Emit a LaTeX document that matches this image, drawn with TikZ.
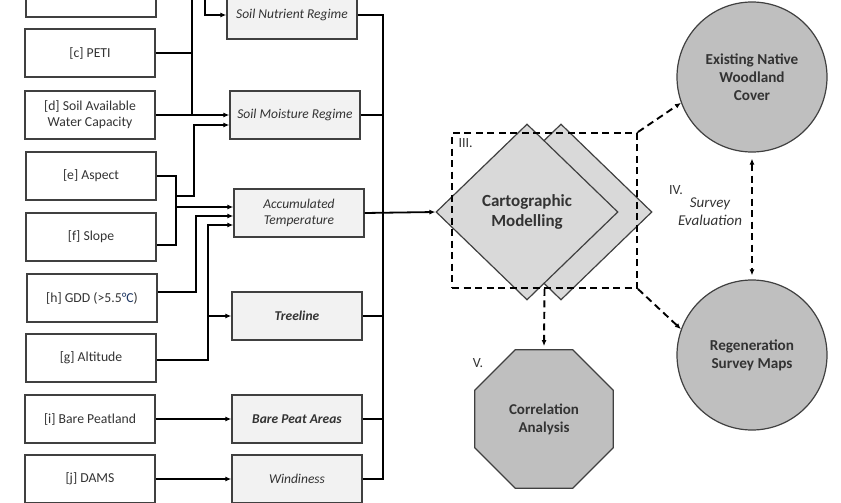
\documentclass[tikz,border=0pt]{standalone}
\usepackage{fontspec}
\setmainfont{Carlito}
\usepackage{xcolor}
\usepackage{tikz}
\usetikzlibrary{shapes,arrows.meta,positioning,calc}

\definecolor{edgegray}{HTML}{404040}
\definecolor{txtgray}{HTML}{333333}
\definecolor{lightfill}{HTML}{F2F2F2}
\definecolor{diafill}{HTML}{D9D9D9}
\definecolor{darkfill}{HTML}{BFBFBF}
\definecolor{degblue}{HTML}{1F3864}

\begin{document}
\begin{tikzpicture}[x=1pt, y=-1pt,
    inbox/.style={draw=edgegray, line width=1.4pt, fill=white, minimum width=130pt, minimum height=48pt,
        align=center, text=txtgray, font=\fontsize{13.7}{16}\selectfont},
    midbox/.style={inbox, fill=lightfill, font=\fontsize{13.5}{16}\selectfont\itshape},
    wire/.style={line width=1.8pt},
    arr/.style={wire, -{Latex[length=6pt,width=5pt]}},
    dashline/.style={line width=1.9pt, dash pattern=on 7pt off 4.5pt},
    dasharr/.style={dashline, -{Latex[length=6pt,width=5pt]}},
    round/.style={circle, draw=edgegray, line width=1.2pt, fill=darkfill, minimum size=150pt,
        align=center, text=txtgray, font=\fontsize{15.2}{18}\selectfont\bfseries},
    carto/.style={diamond, draw=edgegray, line width=1.2pt, fill=diafill, minimum width=182pt,
        minimum height=176pt, inner sep=0pt, align=center},
    note/.style={text=txtgray, font=\fontsize{14}{17}\selectfont}]
    \useasboundingbox (0,0) rectangle (841,503);

    % input layers
    \node[inbox] (b) at (91,-7) {};
    \node[inbox] (c) at (90,53) {[c] PETI};
    \node[inbox] (d) at (90,115) {[d] Soil Available\\Water Capacity};
    \node[inbox] (e) at (91,176) {[e] Aspect};
    \node[inbox] (f) at (91,237) {[f] Slope};
    \node[inbox] (h) at (92,298) {[h] GDD (>5.5\textcolor{degblue}{°C})};
    \node[inbox] (g) at (91,358) {[g] Altitude};
    \node[inbox] (i) at (90,419) {[i] Bare Peatland};
    \node[inbox] (j) at (90,479) {[j] DAMS};

    % derived layers
    \node[midbox] (snr) at (292,15) {Soil Nutrient Regime};
    \node[midbox] (smr) at (295,115) {Soil Moisture Regime};
    \node[midbox] (acc) at (299,213) {Accumulated\\Temperature};
    \node[midbox] (tree) at (297,316) {\textbf{Treeline}};
    \node[midbox] (bpa) at (297,419) {\textbf{Bare Peat Areas}};
    \node[midbox] (wind) at (297,479) {Windiness};

    % modelling, outputs
    \node[carto] (cartoB) at (561,212) {};
    \node[carto, font=\fontsize{17}{20}\selectfont\bfseries, text=txtgray] (cartoA) at (527,212) {Cartographic\\Modelling};
    \node[draw, dashline, minimum width=185pt, minimum height=155pt] (frame) at (544.5,210.5) {};
    \node[note, anchor=north west] at ([xshift=4pt,yshift=-3pt]frame.north west) {III.};
    \node[round] (exist) at (752,77) {Existing Native\\Woodland\\Cover};
    \node[round] (regen) at (752,355) {Regeneration\\Survey Maps};
    \node[regular polygon, regular polygon sides=8, draw=edgegray, line width=1.2pt, fill=darkfill,
        minimum size=150pt, inner sep=0pt, align=center, text=txtgray, font=\fontsize{15}{18}\selectfont\bfseries]
        (corr) at (544,419) {Correlation\\Analysis};
    \node[note] at (676,190) {IV.};
    \node[note, align=center, font=\fontsize{15}{18}\selectfont\itshape] at (710,212) {Survey\\Evaluation};
    \node[note] at (478,363) {V.};

    % left side wiring
    \coordinate (topA) at (192,-10);
    \coordinate (topB) at (205,-10);
    \draw[wire] (c.east) -- (c.east -| topA);
    \draw[wire] (topA) -- (topA |- d.east);
    \draw[arr] (topB) |- (snr.west);
    \draw[arr] (d.east) -- (smr.west);
    \draw[wire] (e.east) -- (176,176) -- (176,245) -- ([yshift=-8pt]f.east);
    \draw[arr] (176,196) -- (194,196) |- ([yshift=-10pt]smr.west);
    \draw[arr] (176,207) -- ([yshift=6pt]acc.west);
    \draw[arr] ([yshift=6pt]h.east) -- (196,292) |- ([yshift=-3pt]acc.west);
    \draw[arr] ([yshift=-2pt]g.east) -- (208,360) |- ([yshift=-12pt]acc.west);
    \draw[arr] (208,316) -- (tree.west);
    \draw[arr] (i.east) -- (bpa.west);
    \draw[arr] (j.east) -- (wind.west);

    % right side bus
    \coordinate (busT) at (383,15);
    \coordinate (busB) at (383,479);
    \draw[wire] (snr.east) -- (busT) -- (busB) -- (wind.east);
    \draw[wire] (smr.east) -- (smr.east -| busT);
    \draw[wire] (tree.east) -- (tree.east -| busT);
    \draw[wire] (bpa.east) -- (bpa.east -| busT);
    \draw[arr] (acc.east) -- (cartoA.west);

    % evaluation arrows
    \draw[dasharr] (frame.north east) -- (exist.200);
    \draw[dasharr] (frame.south east) -- (regen.160);
    \draw[dasharr] (frame.south) -- ([yshift=3pt]corr.north);
    \draw[dashline, {Latex[length=6pt,width=5pt]}-{Latex[length=6pt,width=5pt]}] ([yshift=-6pt]exist.south) -- ([yshift=4pt]regen.north);
\end{tikzpicture}
\end{document}
